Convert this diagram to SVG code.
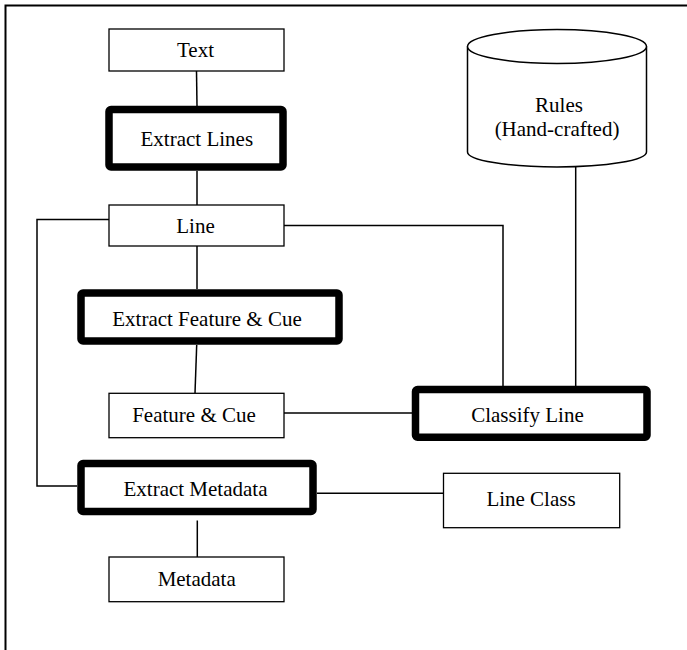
<svg xmlns="http://www.w3.org/2000/svg" width="687" height="650" viewBox="0 0 687 650">
<style>
.box{fill:#fff;stroke:#000;stroke-width:1.3}
.proc{fill:#fff;stroke:#000;stroke-width:7.5;stroke-linejoin:round}
.lbl{font-size:21px;fill:#000;text-anchor:middle}
.conn{fill:none;stroke:#000;stroke-width:1.5}
</style>
<rect width="687" height="650" fill="#fff"/>
<path d="M5.5,650 V5.5 H687" fill="none" stroke="#000" stroke-width="2"/>
<g id="connectors">
<line class="conn" x1="196.5" y1="71" x2="197" y2="106"/>
<line class="conn" x1="197" y1="171" x2="197" y2="205"/>
<line class="conn" x1="197" y1="246" x2="197" y2="289"/>
<line class="conn" x1="196.7" y1="345" x2="195" y2="393"/>
<line class="conn" x1="197.3" y1="520.5" x2="197.3" y2="557"/>
<polyline class="conn" points="109,219.5 37,219.5 37,486 77,486"/>
<polyline class="conn" points="284,225.5 503,225.5 503,386"/>
<line class="conn" x1="575.7" y1="166" x2="575.7" y2="386"/>
<line class="conn" x1="284" y1="413" x2="412" y2="413"/>
<line class="conn" x1="317" y1="493.3" x2="443.5" y2="493.3"/>
</g>
<g font-family="Liberation Serif, Times New Roman, serif">
<g id="node-text">
<rect class="box" x="109" y="29" width="175" height="42"/>
<text class="lbl" x="195.5" y="57">Text</text>
</g>
<g id="node-extract-lines">
<rect class="proc" x="109" y="109.5" width="174" height="57.5" rx="2"/>
<text class="lbl" x="196.8" y="145.5">Extract Lines</text>
</g>
<g id="node-line">
<rect class="box" x="109" y="205" width="175" height="41"/>
<text class="lbl" x="195.5" y="233">Line</text>
</g>
<g id="node-extract-feature">
<rect class="proc" x="81" y="293" width="258" height="48" rx="2"/>
<text class="lbl" x="207" y="326">Extract Feature &amp; Cue</text>
</g>
<g id="node-feature-cue">
<rect class="box" x="109" y="393.3" width="175" height="44.4"/>
<text class="lbl" x="194" y="422">Feature &amp; Cue</text>
</g>
<g id="node-extract-metadata">
<rect class="proc" x="81" y="463.5" width="232" height="48" rx="2"/>
<text class="lbl" x="195.5" y="496">Extract Metadata</text>
</g>
<g id="node-metadata">
<rect class="box" x="109" y="557" width="175" height="44.7"/>
<text class="lbl" x="196.7" y="586">Metadata</text>
</g>
<g id="node-classify-line">
<rect class="proc" x="415.5" y="389.5" width="231.5" height="47.7" rx="2"/>
<text class="lbl" x="527.5" y="421.5">Classify Line</text>
</g>
<g id="node-line-class">
<rect class="box" x="443.5" y="473.3" width="176.2" height="54.4"/>
<text class="lbl" x="531" y="506">Line Class</text>
</g>
<g id="node-rules">
<path d="M467.5,46.5 V152 A89.5,15 0 0 0 646.5,152 V46.5" fill="#fff" stroke="#000" stroke-width="1.5"/>
<ellipse cx="557" cy="46.5" rx="89.5" ry="17" fill="#fff" stroke="#000" stroke-width="1.5"/>
<text class="lbl" x="559" y="111.5">Rules</text>
<text class="lbl" x="557" y="136">(Hand-crafted)</text>
</g>
</g>
</svg>
